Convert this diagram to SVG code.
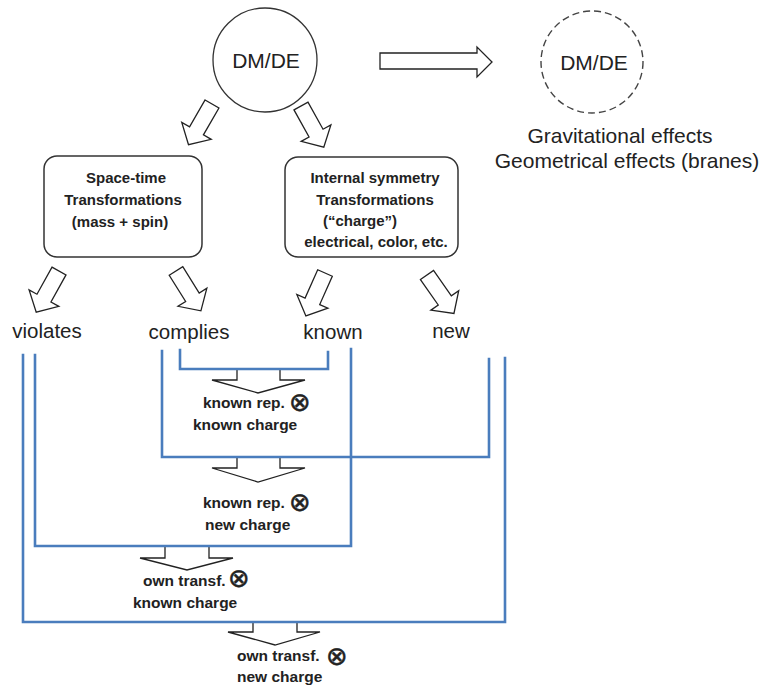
<svg xmlns="http://www.w3.org/2000/svg" width="763" height="688" viewBox="0 0 763 688">
<style>
.bg{fill:#fff}
.circ{fill:#fff;stroke:#333;stroke-width:1.3}
.dash{fill:#fff;stroke:#444;stroke-width:1.4;stroke-dasharray:7 4}
.box{fill:#fff;stroke:#333;stroke-width:1.5}
.arr{fill:#fff;stroke:#222;stroke-width:1.3;stroke-linejoin:miter}
.blue{fill:none;stroke:#4a7dbd;stroke-width:2.6;stroke-linecap:square}
.big{font-family:"Liberation Sans",Arial,sans-serif;font-size:21px;fill:#222;text-anchor:middle}
.lbl{font-family:"Liberation Sans",Arial,sans-serif;font-size:20.5px;fill:#222;text-anchor:middle}
.bx{font-family:"Liberation Sans",Arial,sans-serif;font-size:15px;font-weight:bold;fill:#222;text-anchor:middle}
.res{font-family:"Liberation Sans",Arial,sans-serif;font-size:15.5px;font-weight:bold;fill:#222;text-anchor:start}
.ot{font-family:"DejaVu Sans",sans-serif;font-size:26px;font-weight:normal;fill:#222;stroke:#222;stroke-width:0.5;text-anchor:middle}
</style>
<defs>
<polygon id="blk" points="-8,0 8,0 8,31 17,31 0,47 -17,31 -8,31"/>
</defs>
<rect class="bg" x="0" y="0" width="763" height="688"/>

<g id="connectors">
  <use href="#blk" class="arr" transform="translate(212,104) rotate(30)"/>
  <use href="#blk" class="arr" transform="translate(301,106) rotate(-29)"/>
  <polygon class="arr" points="380,53 477,53 477,47 492,62 477,77 477,69 380,69"/>
  <use href="#blk" class="arr" transform="translate(59,271) rotate(29)"/>
  <use href="#blk" class="arr" transform="translate(176,271) rotate(-32)"/>
  <use href="#blk" class="arr" transform="translate(325,273) rotate(24)"/>
  <use href="#blk" class="arr" transform="translate(427,275) rotate(-35)"/>

  <polygon class="arr" points="237,369 280,369 280,380 305,380 258,393 212,380 237,380"/>
  <polygon class="arr" points="237,457 280,457 280,468 305,468 258,482 212,468 237,468"/>
  <polygon class="arr" points="165,546 209,546 209,558 233,558 187,570 140,558 165,558"/>
  <polygon class="arr" points="253,622 297,622 297,632 320,632 275,645 228,632 253,632"/>

  <polyline class="blue" points="180,350 180,369 328,369 328,352"/>
  <polyline class="blue" points="162,351 162,457 489,457 489,359"/>
  <polyline class="blue" points="35,355 35,546 351,546 351,349"/>
  <polyline class="blue" points="23,355 23,622 505,622 505,358"/>
</g>

<g id="dmde">
  <circle class="circ" cx="265" cy="60" r="52"/>
  <text class="big" x="266" y="68">DM/DE</text>
</g>

<g id="dmde-geom">
  <circle class="dash" cx="592" cy="62" r="51"/>
  <text class="big" x="594" y="70">DM/DE</text>
  <text class="big" x="620" y="143" font-size="20.7">Gravitational effects</text>
  <text class="big" x="627" y="168" font-size="20.7">Geometrical effects (branes)</text>
</g>

<g id="spacetime">
  <rect class="box" x="44" y="156" width="158" height="101" rx="13"/>
  <text class="bx" x="126" y="183">Space-time</text>
  <text class="bx" x="123" y="205">Transformations</text>
  <text class="bx" x="120" y="227">(mass + spin)</text>
</g>

<g id="internal">
  <rect class="box" x="285" y="157" width="173" height="100" rx="13"/>
  <text class="bx" x="375" y="183">Internal symmetry</text>
  <text class="bx" x="375" y="205">Transformations</text>
  <text class="bx" x="360" y="226">(“charge”)</text>
  <text class="bx" x="376" y="247">electrical, color, etc.</text>
</g>

<g id="violates"><text class="lbl" x="47" y="338">violates</text></g>
<g id="complies"><text class="lbl" x="189" y="339">complies</text></g>
<g id="known"><text class="lbl" x="333" y="339">known</text></g>
<g id="new"><text class="lbl" x="451" y="338">new</text></g>

<g id="r1">
  <text class="res" x="203" y="408">known rep.</text>
  <text class="ot" x="300" y="411">⊗</text>
  <text class="res" x="193" y="430">known charge</text>
</g>
<g id="r2">
  <text class="res" x="203" y="508">known rep.</text>
  <text class="ot" x="300" y="511">⊗</text>
  <text class="res" x="205" y="530">new charge</text>
</g>
<g id="r3">
  <text class="res" x="143" y="586">own transf.</text>
  <text class="ot" x="239" y="587">⊗</text>
  <text class="res" x="133" y="608">known charge</text>
</g>
<g id="r4">
  <text class="res" x="237" y="661">own transf.</text>
  <text class="ot" x="337" y="665">⊗</text>
  <text class="res" x="237" y="682">new charge</text>
</g>
</svg>
